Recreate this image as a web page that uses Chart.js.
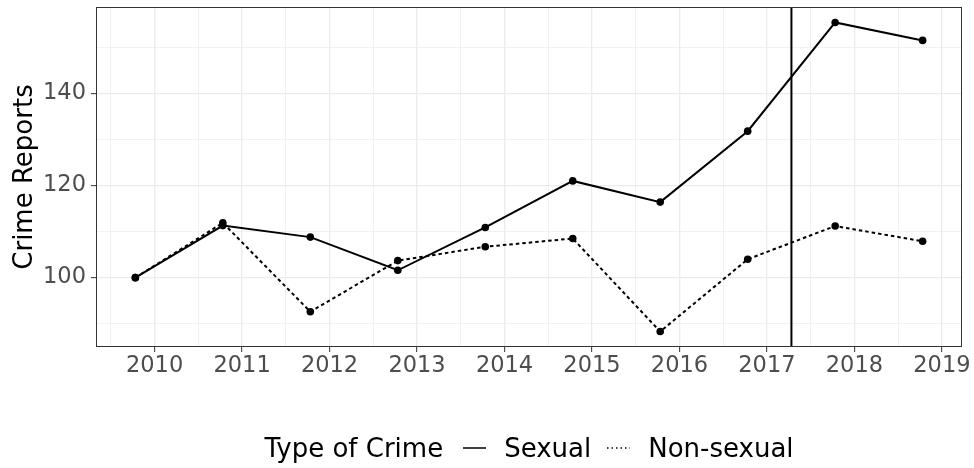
<!DOCTYPE html>
<html><head><meta charset="utf-8">
<script src="https://cdn.jsdelivr.net/npm/chart.js@4/dist/chart.umd.min.js"></script>
<style>
html,body{margin:0;padding:0;background:#fff;}
#wrap{position:relative;width:974px;height:468px;overflow:hidden;}
#c{position:absolute;left:0;top:0;}
#legend{position:absolute;left:96px;width:866px;top:433px;height:30px;display:flex;justify-content:center;align-items:center;
  font-family:"DejaVu Sans";font-size:26px;line-height:30px;color:#000;white-space:nowrap;}
#legend svg{display:block;}
</style></head><body>
<div id="wrap">
<canvas id="c" width="974" height="468"></canvas>
<div id="legend"></div>
</div>
<script>
// ---- data ----
const years = [2009.78, 2010.78, 2011.78, 2012.78, 2013.78, 2014.78, 2015.78, 2016.78, 2017.78, 2018.78];
const sexual = [100, 111.3, 108.8, 101.6, 110.9, 121.0, 116.4, 131.8, 155.4, 151.5];
const nonSexual = [100, 111.9, 92.6, 103.7, 106.7, 108.5, 88.3, 104.0, 111.2, 107.9];
const seriesNames = ["Sexual", "Non-sexual"];
const legendTitle = "Type of Crime";
const xMajor = [2010, 2011, 2012, 2013, 2014, 2015, 2016, 2017, 2018, 2019];
const xMinor = [2009.5, 2010.5, 2011.5, 2012.5, 2013.5, 2014.5, 2015.5, 2016.5, 2017.5, 2018.5];
const yMajor = [100, 120, 140];
const yMinor = [90, 110, 130, 150];
const vlineX = [2017.28];
const yTitle = "Crime Reports";

// ---- scale limits (ggplot-style 5% expansion) ----
const allY = sexual.concat(nonSexual);
const yLo = Math.min(...allY), yHi = Math.max(...allY);
const xLo = Math.min(...years), xHi = Math.max(...years);
const yPad = (yHi - yLo) * 0.05, xPad = (xHi - xLo) * 0.05;

const FONT = "DejaVu Sans";
const tickList = (maj, min) => maj.concat(min).sort((a,b)=>a-b).map(v => ({value: v}));
const isMaj = (arr, ctx) => ctx && ctx.tick && arr.includes(ctx.tick.value);

const panelPlugin = {
  id: 'panel',
  afterDatasetsDraw(chart) {
    const {ctx, chartArea: a, scales: {x}} = chart;
    ctx.save();
    ctx.strokeStyle = '#000';
    ctx.lineWidth = 2;
    vlineX.forEach(v => {
      const px = x.getPixelForValue(v);
      ctx.beginPath(); ctx.moveTo(px, a.top); ctx.lineTo(px, a.bottom); ctx.stroke();
    });
    ctx.strokeStyle = '#333333';
    ctx.lineWidth = 1;
    ctx.strokeRect(a.left + 0.5, a.top + 0.5, a.right - a.left - 1, a.bottom - a.top - 1);
    ctx.restore();
  }
};

const mkData = vals => years.map((x, i) => ({x: x, y: vals[i]}));

new Chart(document.getElementById('c'), {
  type: 'line',
  data: {
    datasets: [
      {label: seriesNames[1], data: mkData(nonSexual), borderColor: '#000', backgroundColor: '#000',
       borderWidth: 2, borderDash: [3.5, 3], pointRadius: 3.8, pointBorderWidth: 0, pointBackgroundColor: '#000', tension: 0},
      {label: seriesNames[0], data: mkData(sexual), borderColor: '#000', backgroundColor: '#000',
       borderWidth: 2, pointRadius: 3.8, pointBorderWidth: 0, pointBackgroundColor: '#000', tension: 0}
    ]
  },
  options: {
    responsive: false,
    animation: false,
    layout: {padding: {left: 0, right: 12, top: 7, bottom: 0}},
    plugins: {legend: {display: false}, tooltip: {enabled: false}},
    scales: {
      x: {
        type: 'linear',
        min: xLo - xPad, max: xHi + xPad,
        afterBuildTicks: s => { s.ticks = tickList(xMajor, xMinor); },
        afterFit: s => { s.height = 121; s.paddingLeft = 0; s.paddingRight = 0; },
        ticks: {
          autoSkip: false, maxRotation: 0, padding: 1,
          font: {family: FONT, size: 22.5}, color: '#4D4D4D',
          callback: v => xMajor.includes(v) ? String(v) : ''
        },
        grid: {
          color: '#EBEBEB',
          lineWidth: c => isMaj(xMajor, c) ? 1.3 : 0.7,
          tickColor: c => isMaj(xMajor, c) ? '#333333' : 'rgba(0,0,0,0)',
          tickWidth: 1, tickLength: 5
        },
        border: {display: false}
      },
      y: {
        type: 'linear',
        min: yLo - yPad, max: yHi + yPad,
        afterBuildTicks: s => { s.ticks = tickList(yMajor, yMinor); },
        afterFit: s => { s.width = 96; s.paddingTop = 0; s.paddingBottom = 0; },
        ticks: {
          autoSkip: false, padding: 5,
          font: {family: FONT, size: 22.5}, color: '#4D4D4D',
          callback: v => yMajor.includes(v) ? String(v) : ''
        },
        grid: {
          color: '#EBEBEB',
          lineWidth: c => isMaj(yMajor, c) ? 1.3 : 0.7,
          tickColor: c => isMaj(yMajor, c) ? '#333333' : 'rgba(0,0,0,0)',
          tickWidth: 1, tickLength: 5
        },
        border: {display: false},
        title: {display: true, text: yTitle, color: '#000', font: {family: FONT, size: 26}, padding: {top: 10, bottom: 0}}
      }
    }
  },
  plugins: [panelPlugin]
});

// ---- HTML legend ----
const lg = document.getElementById('legend');
const span = (t, ml) => { const s = document.createElement('span'); s.textContent = t; if (ml) s.style.marginLeft = ml + 'px'; return s; };
const key = (dash, ml) => {
  const ns = 'http://www.w3.org/2000/svg';
  const svg = document.createElementNS(ns, 'svg');
  svg.setAttribute('width', '23'); svg.setAttribute('height', '6');
  svg.style.marginLeft = ml + 'px';
  const ln = document.createElementNS(ns, 'line');
  ln.setAttribute('x1', '0'); ln.setAttribute('x2', '23'); ln.setAttribute('y1', '3'); ln.setAttribute('y2', '3');
  ln.setAttribute('stroke', '#000'); ln.setAttribute('stroke-width', '1.5');
  if (dash) ln.setAttribute('stroke-dasharray', dash);
  svg.appendChild(ln);
  return svg;
};
lg.appendChild(span(legendTitle));
lg.appendChild(key(null, 20));
lg.appendChild(span(seriesNames[0], 18));
lg.appendChild(key('1.5 3', 16));
lg.appendChild(span(seriesNames[1], 18));
</script>
</body></html>
